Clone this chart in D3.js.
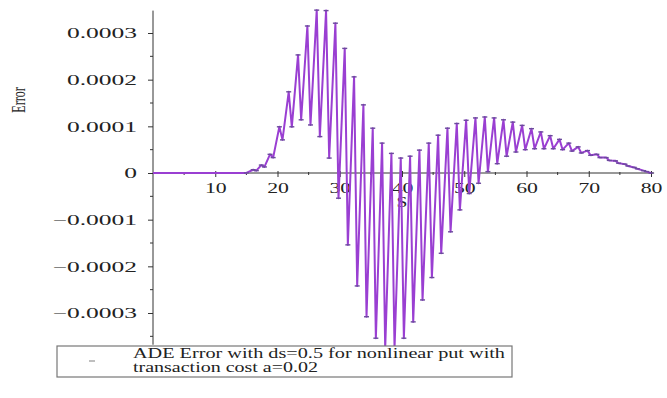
<!DOCTYPE html>
<html>
<head>
<meta charset="utf-8">
<script src="https://cdn.jsdelivr.net/npm/d3@7"></script>
<style>
  body { margin: 0; background: #fff; }
  svg text { font-family: "Liberation Serif", "DejaVu Serif", serif; fill: #222; }
</style>
</head>
<body>
<svg id="chart" width="667" height="398"></svg>
<script>
// S values (ds steps, tops and troughs of the oscillation)
const sValues = [
  0, 5, 10, 14, 15, 16.1, 16.6, 17.4, 17.9, 18.8, 19.3, 20.3, 20.8, 21.8, 22.3,
  23.3, 23.8, 24.8, 25.3, 26.3, 26.8, 27.8, 28.3, 29.3, 29.8, 30.8, 31.3, 32.3, 32.8,
  33.8, 34.3, 35.3, 35.8, 36.8, 37.3, 38.3, 38.8, 39.8, 40.3, 41.3, 41.8, 42.8, 43.3,
  44.3, 44.8, 45.8, 46.3, 47.3, 47.8, 48.8, 49.3, 50.3, 50.8, 51.8, 52.3, 53.3, 53.8,
  54.8, 55.3, 56.3, 56.8, 57.8, 58.3, 59.3, 59.8, 60.8, 61.3, 62.3, 62.8, 63.8, 64.3,
  65.3, 65.8, 66.8, 67.3, 68.3, 68.8, 69.8, 70.3, 71.3, 71.8, 72.8, 73.3, 74.3, 74.8,
  75.8, 76.3, 77.3, 77.8, 78.8, 79.3, 80
];
// Error values in units of 1e-4
const errValues = [
  0, 0, 0, 0, 0.002, 0.07, 0.05, 0.17, 0.13, 0.40, 0.33, 0.99, 0.71, 1.74, 0.99,
  2.53, 1.14, 3.15, 1.03, 3.49, 0.78, 3.48, 0.32, 3.21, -0.54, 2.67, -1.54, 2.06, -2.42,
  1.46, -3.08, 0.96, -3.54, 0.64, -3.76, 0.42, -3.76, 0.32, -3.54, 0.36, -3.19, 0.49, -2.72,
  0.64, -2.24, 0.81, -1.72, 0.96, -1.26, 1.06, -0.79, 1.13, -0.44, 1.18, -0.22, 1.20, 0.03,
  1.18, 0.20, 1.14, 0.36, 1.09, 0.45, 1.02, 0.50, 0.95, 0.52, 0.88, 0.52, 0.80, 0.52,
  0.72, 0.50, 0.64, 0.47, 0.56, 0.43, 0.48, 0.38, 0.40, 0.33, 0.33, 0.27, 0.26, 0.21,
  0.19, 0.15, 0.12, 0.09, 0.05, 0.03, 0
];
const xTicks = [10, 20, 30, 40, 50, 60, 70, 80];
const xMinorTicks = [5, 15, 25, 35, 45, 55, 65, 75];
const yTicks = [-0.0003, -0.0002, -0.0001, 0, 0.0001, 0.0002, 0.0003];
const yMinorTicks = [-0.00035, -0.00025, -0.00015, -0.00005, 0.00005, 0.00015, 0.00025];
const legendLines = ["ADE Error with ds=0.5 for nonlinear put with", "transaction cost  a=0.02"];

const data = sValues.map((s, i) => ({ s: s, e: errValues[i] * 1e-4 }));

const svg = d3.select('#chart');

const x = d3.scaleLinear().domain([0, 80]).range([153, 651]);
const y = d3.scaleLinear().domain([-0.0003, 0.0003]).range([313, 33]);

// the original image is stretched sideways, so text is too
const yStretch = 1.7, xStretch = 1.45;

// y axis
const yFmt = d => d === 0 ? '0' : (d < 0 ? '\u2212' : '') + Math.abs(d).toFixed(4);
const yAxis = svg.append('g')
    .attr('transform', `translate(${x(0)},0)`)
    .call(d3.axisLeft(y).tickValues(yTicks).tickFormat(yFmt).tickSize(5));
yAxis.select('.domain').attr('d', `M0,${y(0.000348)}V${y(-0.000368)}`);
yAxis.selectAll('text')
    .attr('x', -16 / yStretch)
    .attr('transform', `scale(${yStretch},1)`)
    .style('font-size', '15px');

svg.append('g').selectAll('line')
    .data(yMinorTicks)
    .join('line')
    .attr('x1', x(0) - 3).attr('x2', x(0))
    .attr('y1', d => y(d)).attr('y2', d => y(d))
    .attr('stroke', '#333');

// x axis
const xAxis = svg.append('g')
    .attr('transform', `translate(0,${y(0)})`)
    .call(d3.axisBottom(x).tickValues(xTicks).tickSize(4).tickPadding(5));
xAxis.select('.domain').attr('d', `M${x(0)},0H${x(80.5)}`);
xAxis.selectAll('text')
    .attr('transform', `scale(${xStretch},1)`)
    .style('font-size', '15px');
xAxis.selectAll('.tick line').attr('y1', -2);

svg.append('g').selectAll('line')
    .data(xMinorTicks)
    .join('line')
    .attr('x1', d => x(d)).attr('x2', d => x(d))
    .attr('y1', y(0) - 1).attr('y2', y(0) + 2)
    .attr('stroke', '#333');

svg.selectAll('.domain, .tick line').attr('stroke', '#333');

// axis titles
svg.append('text')
    .attr('transform', `translate(${x(40)},207) scale(1.4,1)`)
    .attr('text-anchor', 'middle')
    .style('font-size', '14px')
    .text('S');

svg.append('text')
    .attr('transform', `translate(25,100) scale(1.5,1) rotate(-90)`)
    .attr('text-anchor', 'middle')
    .style('font-size', '12px')
    .text('Error');

// series
const line = d3.line().x(d => x(d.s)).y(d => y(d.e));
svg.append('path')
    .datum(data)
    .attr('d', line)
    .attr('fill', 'none')
    .attr('stroke', '#9a3fd2')
    .attr('stroke-width', 2)
    .attr('stroke-linejoin', 'round');

svg.append('g').selectAll('line')
    .data(data.filter(d => d.s >= 15))
    .join('line')
    .attr('x1', d => x(d.s) - 2.5).attr('x2', d => x(d.s) + 2.5)
    .attr('y1', d => y(d.e)).attr('y2', d => y(d.e))
    .attr('stroke', '#6b4a9c')
    .attr('stroke-width', 1.4);

// legend
const lg = svg.append('g');
lg.append('rect')
    .attr('x', 57).attr('y', 346).attr('width', 455).attr('height', 31)
    .attr('fill', '#fff').attr('stroke', '#777').attr('stroke-width', 1.2);
lg.append('line')
    .attr('x1', 89).attr('x2', 95).attr('y1', 361).attr('y2', 361)
    .attr('stroke', '#aaa').attr('stroke-width', 1.5);
lg.selectAll('text.lt')
    .data(legendLines)
    .join('text')
    .attr('class', 'lt')
    .attr('x', 133)
    .attr('y', (d, i) => 358 + i * 14)
    .attr('textLength', (d, i) => i === 0 ? 372 : 185)
    .attr('lengthAdjust', 'spacingAndGlyphs')
    .style('font-size', '14px')
    .text(d => d);
</script>
</body>
</html>
